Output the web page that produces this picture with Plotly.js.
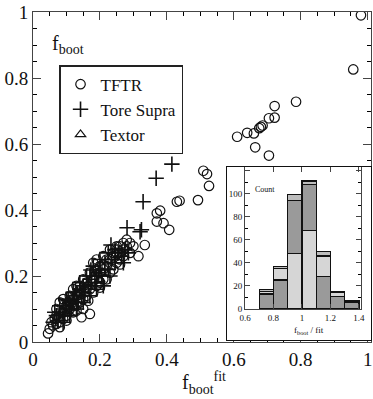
<!DOCTYPE html>
<html><head><meta charset="utf-8">
<script src="https://cdn.plot.ly/plotly-3.0.1.min.js"></script>
<style>
html,body{margin:0;padding:0;background:#fff}
#wrap{position:relative;width:373px;height:399px}
#chart{position:absolute;left:0;top:0;width:373px;height:399px}
#inset{position:absolute;left:226px;top:166px;width:146px;height:175px;box-sizing:border-box;border:1.5px solid #111;background:#fff;z-index:5}
</style>
</head><body><div id="wrap"><div id="chart"></div><div id="inset"></div></div>
<script>
// Main scatter data
const tftrX = [0.98,0.957,0.786,0.722,0.722,0.705,0.681,0.686,0.676,0.66,0.64,0.61,0.664,0.705,0.509,0.52,0.526,0.438,0.493,0.37,0.38,0.37,0.39,0.407,0.334,0.43,0.045,
 0.06,0.07,0.08,0.07,0.09,0.10,0.09,0.11,0.10,0.12,0.08,0.13,0.12,0.14,0.11,0.15,0.13,0.16,0.14,0.17,0.15,0.12,0.18,0.16,0.19,0.17,0.20,0.18,0.21,0.19,0.22,0.20,0.23,0.21,0.24,0.22,0.25,0.23,0.26,0.24,0.27,0.25,0.28,0.26,0.29,0.27,0.28,0.30,0.17,0.15,0.10,0.08,0.065,0.055,0.09,0.13,0.19,0.24,0.20,0.22,0.26,0.18,0.14,0.11,0.16,0.21,0.25,0.27,0.23,0.29,0.315,0.12,0.10,0.07,0.05,0.145,0.165,0.20,0.26,0.13];
const tftrY = [0.99,0.826,0.728,0.715,0.68,0.678,0.652,0.656,0.648,0.632,0.634,0.622,0.59,0.565,0.519,0.509,0.473,0.428,0.43,0.39,0.398,0.365,0.36,0.34,0.294,0.425,0.026,
 0.05,0.08,0.06,0.10,0.09,0.11,0.13,0.10,0.08,0.13,0.12,0.11,0.16,0.15,0.14,0.13,0.17,0.18,0.12,0.16,0.19,0.09,0.19,0.14,0.22,0.21,0.18,0.24,0.22,0.17,0.25,0.23,0.21,0.26,0.27,0.19,0.24,0.28,0.29,0.22,0.30,0.27,0.29,0.25,0.27,0.28,0.31,0.29,0.085,0.10,0.065,0.045,0.07,0.06,0.07,0.14,0.25,0.26,0.21,0.23,0.27,0.15,0.17,0.12,0.16,0.19,0.29,0.26,0.25,0.30,0.26,0.11,0.10,0.055,0.04,0.075,0.125,0.165,0.235,0.095];
const toreX = [0.415,0.368,0.329,0.324,0.281,0.32,0.233,0.173,
 0.16,0.18,0.20,0.19,0.15,0.14,0.13,0.12,0.11,0.10,0.09,0.08,0.07,0.06,0.075,0.095,0.105,0.115,0.125,0.135,0.145,0.155,0.165,0.175,0.185,0.195,0.205,0.215,0.225,0.235,0.245,0.255,0.265,0.275,0.285,0.21,0.17,0.13,0.09,0.11,0.15,0.19,0.23,0.27,0.17,0.14,0.12,0.10,0.08,0.065,0.225,0.245,0.20];
const toreY = [0.539,0.496,0.425,0.34,0.346,0.334,0.294,0.218,
 0.20,0.23,0.22,0.20,0.17,0.16,0.15,0.13,0.12,0.11,0.10,0.09,0.08,0.06,0.065,0.085,0.125,0.10,0.14,0.12,0.14,0.15,0.17,0.19,0.18,0.21,0.20,0.24,0.22,0.25,0.24,0.27,0.26,0.28,0.27,0.17,0.14,0.10,0.06,0.08,0.12,0.16,0.20,0.24,0.20,0.18,0.15,0.13,0.11,0.09,0.27,0.28,0.25];
const textorX = [0.12,0.16,0.20,0.14];
const textorY = [0.12,0.17,0.19,0.15];

// Inset histogram (counts per bin of f_boot / fit)
const binCenters = [0.75,0.85,0.95,1.05,1.15,1.25,1.35];
const histLower = [13,25,48,68,28,11,6];
const histMiddle = [2,10,46,40,18,3,0];
const histCap = [2,2,5,3,4,1,1];
const insetTickVals = [0.6,0.8,1,1.2,1.4];
const insetTickText = ["0.6","0.8","1","1.2","1.4"];

const serif = 'Liberation Serif';
const dark = '#9a9a9a', light = '#d6d6d6';

const mainTraces = [
 {type:'scatter',mode:'markers',name:'TFTR',x:tftrX,y:tftrY,
  marker:{symbol:'circle-open',size:9.5,color:'#111',line:{width:1.2,color:'#111'}}},
 {type:'scatter',mode:'markers',name:'Tore Supra',x:toreX,y:toreY,
  marker:{symbol:'cross-thin-open',size:11,color:'#111',line:{width:1.6,color:'#111'}}},
 {type:'scatter',mode:'markers',name:'Textor',x:textorX,y:textorY,
  marker:{symbol:'triangle-up-open',size:9,color:'#111',line:{width:1.2,color:'#111'}}}
];
const mainLayout = {
 width:373,height:399,margin:{l:33,r:2,t:12,b:57},
 paper_bgcolor:'#fff',plot_bgcolor:'#fff',
 showlegend:true,
 legend:{x:0.077,y:0.839,xanchor:'left',yanchor:'top',bgcolor:'#fff',bordercolor:'#222',borderwidth:1.5,
   traceorder:'normal',font:{family:serif,size:17,color:'#111'}},
 xaxis:{range:[0,1.01],dtick:0.2,ticks:'inside',ticklen:8,showline:true,mirror:'ticks',
   showgrid:true,gridcolor:'#ffffff',
   minor:{ticks:'inside',ticklen:4,dtick:0.05,tickcolor:'#000'},
   tickfont:{family:serif,size:19,color:'#111'}},
 yaxis:{range:[0,1],dtick:0.2,ticks:'inside',ticklen:8,showline:true,mirror:'ticks',
   showgrid:true,gridcolor:'#ffffff',
   minor:{ticks:'inside',ticklen:4,dtick:0.05,tickcolor:'#000'},
   tickfont:{family:serif,size:19,color:'#111'}},
 annotations:[
  {xref:'paper',yref:'paper',x:0.05,y:0.9,xanchor:'left',yanchor:'middle',showarrow:false,
   text:'f<sub>boot</sub>',font:{family:serif,size:20,color:'#111'}},
  {xref:'paper',yref:'paper',x:0.505,y:-0.125,xanchor:'center',yanchor:'middle',showarrow:false,
   text:'f<sub>boot</sub><sup>fit</sup>',font:{family:serif,size:20,color:'#111'}}
 ]
};

const insetTraces = [
 {type:'bar',x:binCenters,y:histLower,width:0.1,showlegend:false,
  marker:{color:[dark,dark,light,light,dark,dark,dark],line:{color:'#111',width:1.3}}},
 {type:'bar',x:binCenters,y:histMiddle,width:0.1,showlegend:false,
  marker:{color:[light,light,dark,dark,light,light,light],line:{color:'#111',width:1.3}}},
 {type:'bar',x:binCenters,y:histCap,width:0.1,showlegend:false,
  marker:{color:'#bdbdbd',line:{color:'#111',width:1.3}}}
];
const insetLayout = {
 width:143,height:172,margin:{l:18,r:9,t:0,b:30},
 paper_bgcolor:'rgba(0,0,0,0)',plot_bgcolor:'#fff',barmode:'stack',showlegend:false,
 xaxis:{range:[0.6,1.415],tickvals:insetTickVals,ticktext:insetTickText,
   ticks:'inside',ticklen:5,showline:true,mirror:'ticks',showgrid:true,gridcolor:'#ffffff',
   tickfont:{family:serif,size:9,color:'#111'}},
 yaxis:{range:[0,123],dtick:20,ticks:'inside',ticklen:5,showline:true,mirror:'ticks',
   showgrid:true,gridcolor:'#ffffff',zeroline:false,
   tickfont:{family:serif,size:9,color:'#111'},
   minor:{ticks:'inside',ticklen:3,dtick:10,tickcolor:'#000'}},
 annotations:[
  {xref:'paper',yref:'paper',x:0.065,y:0.84,xanchor:'left',yanchor:'middle',showarrow:false,
   text:'Count',font:{family:serif,size:8,color:'#111'}},
  {xref:'paper',yref:'paper',x:0.556,y:-0.151,xanchor:'center',yanchor:'middle',showarrow:false,
   text:'f<sub>boot</sub> / fit',font:{family:serif,size:9,color:'#111'}}
 ]
};
Plotly.newPlot('chart',mainTraces,mainLayout,{displayModeBar:false});
Plotly.newPlot('inset',insetTraces,insetLayout,{displayModeBar:false});
</script></body></html>
